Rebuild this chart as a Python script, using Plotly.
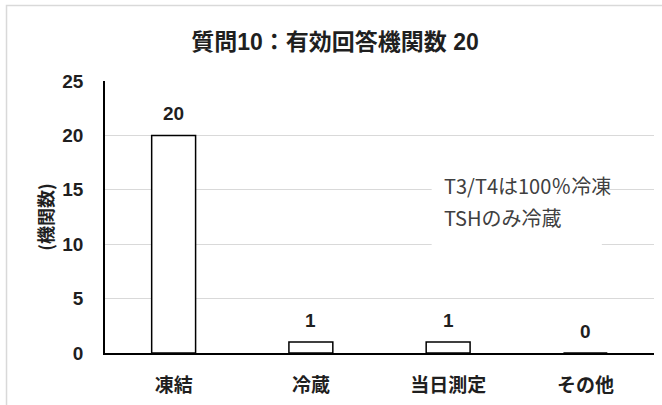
import plotly.graph_objects as go

# Survey answers: storage method for samples
categories = ["凍結", "冷蔵", "当日測定", "その他"]
counts = [20, 1, 1, 0]

title_text = "質問10：有効回答機関数 20"
y_title = "(機関数)"
note_lines = ["T3/T4は100％冷凍", "TSHのみ冷蔵"]
y_ticks = [0, 5, 10, 15, 20, 25]

FONT = "Liberation Sans, Noto Sans CJK JP"
CJK = "Noto Sans CJK JP"
DARK = "#1f1f1f"

fig = go.Figure()
fig.add_trace(go.Bar(
    x=categories,
    y=counts,
    width=0.32,
    marker=dict(color="white", line=dict(color="black", width=1.5)),
    hoverinfo="skip",
))

# value labels above each bar
for c, v in zip(categories, counts):
    fig.add_annotation(
        x=c, y=v, text=str(v), showarrow=False,
        yanchor="middle", yshift=22,
        font=dict(family=FONT, size=19, color=DARK, weight="bold"),
    )

# white text box holding the note
fig.add_shape(
    type="rect", xref="x", yref="y",
    x0=1.88, x1=3.12, y0=9.3, y1=17.6,
    fillcolor="white", line=dict(width=0), layer="above",
)
for txt, yv in zip(note_lines, [15.4, 12.45]):
    fig.add_annotation(
        x=1.88, y=yv, xref="x", yref="y", text=txt, showarrow=False,
        xanchor="left", yanchor="middle", xshift=10,
        font=dict(family=CJK, size=20, color="#404040"),
    )

# chart frame (left and top edges)
fig.add_shape(
    type="rect", xref="paper", yref="paper",
    x0=-0.1794, x1=1.5, y0=-0.5, y1=1.2776,
    fillcolor="rgba(0,0,0,0)", line=dict(color="#d9d9d9", width=1.5),
    layer="below",
)

fig.update_layout(
    width=662, height=405,
    margin=dict(l=105, r=8, t=81, b=52, autoexpand=False),
    paper_bgcolor="white", plot_bgcolor="white",
    showlegend=False,
    font=dict(family=FONT, color=DARK),
    title=dict(
        text=title_text, x=335 / 662, xref="container", xanchor="center",
        y=1 - 42 / 405, yref="container", yanchor="middle",
        font=dict(family=FONT, size=23, color=DARK, weight="bold"),
    ),
    xaxis=dict(
        type="category", range=[-0.5, 3.5],
        showline=True, linecolor="black", linewidth=1.5,
        showgrid=False, ticks="", ticklabelstandoff=14,
        tickfont=dict(family=CJK, size=19, color=DARK, weight="bold"),
    ),
    yaxis=dict(
        range=[0, 25], tickvals=y_ticks,
        showline=True, linecolor="black", linewidth=1.5,
        showgrid=True, gridcolor="#d9d9d9", gridwidth=1,
        zeroline=False, ticks="", ticklabelstandoff=16,
        tickfont=dict(family=FONT, size=19, color=DARK, weight="bold"),
        title=dict(text=y_title, standoff=4,
                   font=dict(family=CJK, size=18, color=DARK, weight="bold")),
    ),
)

fig.write_html("out.html")
